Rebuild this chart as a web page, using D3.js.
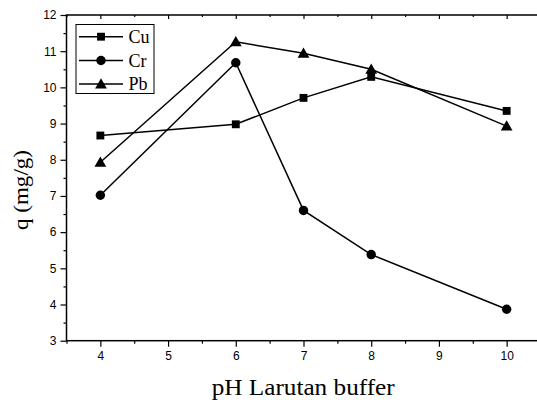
<!DOCTYPE html>
<html>
<head>
<meta charset="utf-8">
<script src="https://cdn.jsdelivr.net/npm/d3@7"></script>
<style>
  html, body { margin: 0; padding: 0; background: #fff; }
  svg { display: block; }
</style>
</head>
<body>
<svg id="chart" width="537" height="400"></svg>
<script>
// pH values of the buffer solutions
const phValues = [4, 6, 7, 8, 10];

// Adsorption capacity q (mg/g) per metal ion
const cuValues = [8.67, 8.98, 9.71, 10.29, 9.35];
const crValues = [7.02, 10.68, 6.60, 5.38, 3.87];
const pbValues = [7.93, 11.26, 10.94, 10.50, 8.93];

const seriesNames = ["Cu", "Cr", "Pb"];
const seriesValues = [cuValues, crValues, pbValues];

const xTickValues = [4, 5, 6, 7, 8, 9, 10];
const yTickValues = [3, 4, 5, 6, 7, 8, 9, 10, 11, 12];

const xTitle = "pH Larutan buffer";
const yTitle = "q (mg/g)";

const svg = d3.select("#chart");
const plotLeft = 66.5, plotRight = 540.5, plotTop = 15, plotBottom = 340.7;

const x = d3.scaleLinear().domain([3.5, 10.5]).range([plotLeft, plotRight]);
const y = d3.scaleLinear().domain([3, 12]).range([plotBottom, plotTop]);

const tickFont = "'Liberation Sans', Arial, sans-serif";
const serif = "'Liberation Serif', 'Times New Roman', serif";

const xMinor = d3.range(3.5, 10.51, 0.5).filter(v => !xTickValues.includes(v));
const yMinor = d3.range(3.5, 12, 1);

// Bottom axis: major ticks with labels, minor ticks without
svg.append("g")
  .attr("transform", `translate(0,${plotBottom})`)
  .call(d3.axisBottom(x).tickValues(xTickValues).tickSize(6).tickPadding(5).tickFormat(d3.format("d")));
svg.append("g")
  .attr("transform", `translate(0,${plotBottom})`)
  .call(d3.axisBottom(x).tickValues(xMinor).tickSize(3).tickFormat(""));

// Left axis
svg.append("g")
  .attr("transform", `translate(${plotLeft},0)`)
  .call(d3.axisLeft(y).tickValues(yTickValues).tickSize(6).tickPadding(4).tickFormat(d3.format("d")));
svg.append("g")
  .attr("transform", `translate(${plotLeft},0)`)
  .call(d3.axisLeft(y).tickValues(yMinor).tickSize(3).tickFormat(""));

// Top axis: small inward ticks only
svg.append("g")
  .attr("transform", `translate(0,${plotTop})`)
  .call(d3.axisTop(x).tickValues(xTickValues).tickSize(-4).tickFormat(""));
svg.append("g")
  .attr("transform", `translate(0,${plotTop})`)
  .call(d3.axisTop(x).tickValues(xMinor).tickSize(-2).tickFormat(""));

svg.selectAll(".domain").remove();
svg.selectAll(".tick line").attr("stroke", "#000").attr("stroke-width", 1.2);
svg.selectAll(".tick text")
  .attr("font-family", tickFont)
  .attr("font-size", 12)
  .attr("fill", "#000");

// Plot frame
svg.append("rect")
  .attr("x", plotLeft).attr("y", plotTop)
  .attr("width", plotRight - plotLeft).attr("height", plotBottom - plotTop)
  .attr("fill", "none").attr("stroke", "#000").attr("stroke-width", 1.5);

// Symbols per series: square, circle, triangle
const symbols = [
  d3.symbol().type(d3.symbolSquare).size(62),
  d3.symbol().type(d3.symbolCircle).size(70),
  d3.symbol().type(d3.symbolTriangle).size(60)
];

const line = d3.line().x((d, i) => x(phValues[i])).y(d => y(d));

seriesValues.forEach((vals, s) => {
  svg.append("path")
    .datum(vals)
    .attr("d", line)
    .attr("fill", "none")
    .attr("stroke", "#000")
    .attr("stroke-width", 1.5);
  svg.append("g").selectAll("path")
    .data(vals)
    .join("path")
    .attr("d", symbols[s])
    .attr("transform", (d, i) => `translate(${x(phValues[i])},${y(d) + (s === 2 ? 1 : 0)})`)
    .attr("fill", "#000");
});

// Legend
const legend = svg.append("g");
legend.append("rect")
  .attr("x", 76).attr("y", 24.5).attr("width", 78).attr("height", 69)
  .attr("fill", "#fff").attr("stroke", "#000").attr("stroke-width", 1);
const legendY = [36.7, 60.5, 84];
seriesNames.forEach((name, s) => {
  legend.append("line")
    .attr("x1", 79).attr("x2", 123)
    .attr("y1", legendY[s]).attr("y2", legendY[s])
    .attr("stroke", "#000").attr("stroke-width", 1.5);
  legend.append("path")
    .attr("d", symbols[s])
    .attr("transform", `translate(101,${legendY[s] + (s === 2 ? 1 : 0)})`)
    .attr("fill", "#000");
  legend.append("text")
    .attr("x", 128.5).attr("y", legendY[s] + 6)
    .attr("font-family", serif).attr("font-size", 18)
    .attr("fill", "#000")
    .text(name);
});

// Axis titles
svg.append("text")
  .attr("x", 211.7).attr("y", 395)
  .attr("font-family", serif).attr("font-size", 24)
  .attr("textLength", 183).attr("lengthAdjust", "spacingAndGlyphs")
  .attr("fill", "#000")
  .text(xTitle);

svg.append("text")
  .attr("transform", "translate(28,230) rotate(-90)")
  .attr("font-family", serif).attr("font-size", 22)
  .attr("textLength", 80).attr("lengthAdjust", "spacingAndGlyphs")
  .attr("fill", "#000")
  .text(yTitle);
</script>
</body>
</html>
